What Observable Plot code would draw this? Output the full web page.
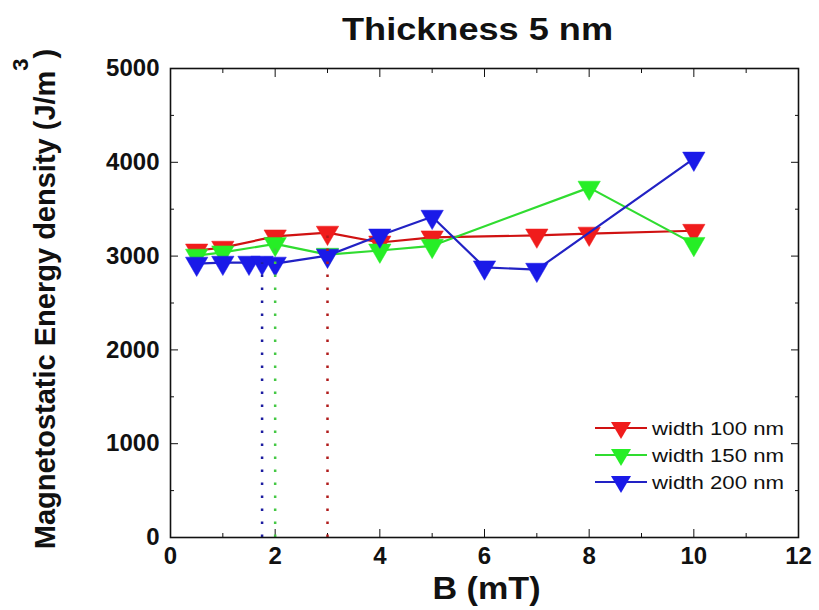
<!DOCTYPE html>
<html>
<head>
<meta charset="utf-8">
<script src="https://cdn.jsdelivr.net/npm/d3@7"></script>
<script src="https://cdn.jsdelivr.net/npm/@observablehq/plot@0.6"></script>
<style>
  html, body { margin: 0; padding: 0; background: #fff; }
  #chart { width: 819px; height: 610px; }
</style>
</head>
<body>
<div id="chart"></div>
<script>
// Magnetostatic energy density vs applied field B, for three strip widths
const B100 = [0.5, 1, 2, 3, 4, 5, 7, 8, 10];
const E100 = [3060, 3090, 3210, 3250, 3145, 3200, 3220, 3240, 3270];
const B150 = [0.5, 1, 2, 3, 4, 5, 8, 10];
const E150 = [3005, 3040, 3130, 3015, 3060, 3110, 3730, 3130];
const B200 = [0.5, 1, 1.5, 1.75, 2, 3, 4, 5, 6, 7, 10];
const E200 = [2920, 2930, 2930, 2930, 2920, 3005, 3220, 3420, 2880, 2855, 4040];

const seriesNames = ["width 100 nm", "width 150 nm", "width 200 nm"];
const markerColors = ["#f01c1c", "#26ee26", "#1a1ae8"];
const lineColors = ["#d01212", "#30dc30", "#2222c4"];
const dropColors = ["#b01a1a", "#44c844", "#1c1ca0"];

// switching fields, marked with dotted drop lines
const critB = [3, 2, 1.75];
const critE = [3250, 3130, 2930];

const xMajor = [0, 2, 4, 6, 8, 10, 12];
const xMinor = [1, 3, 5, 7, 9, 11];
const yMajor = [0, 1000, 2000, 3000, 4000, 5000];
const yMinor = [500, 1500, 2500, 3500, 4500];

const titleText = "Thickness 5 nm";
const xLabel = "B (mT)";
const yLabel = "Magnetostatic Energy density (J/m";

const font = "'Liberation Sans', Arial, Helvetica, sans-serif";

const series = [
  {name: seriesNames[0], B: B100, E: E100},
  {name: seriesNames[1], B: B150, E: E150},
  {name: seriesNames[2], B: B200, E: E200}
].map((s, k) => ({
  ...s,
  k,
  rows: s.B.map((b, i) => ({B: b, E: s.E[i], series: s.name}))
}));

const drops = critB.map((b, k) => ({B: b, E: critE[k], color: dropColors[k]}));

const seriesMarks = series.flatMap(s => [
  Plot.line(s.rows, {x: "B", y: "E", stroke: lineColors[s.k], strokeWidth: 2.2}),
  Plot.dot(s.rows, {x: "B", y: "E", symbol: "triangle", rotate: 180, r: 8.3,
                    fill: markerColors[s.k], stroke: markerColors[s.k], strokeWidth: 0.5})
]);

const tickFont = {fontSize: 24, fontWeight: "bold", fill: "#111"};
const noText = () => "";

const chart = Plot.plot({
  width: 819,
  height: 610,
  marginLeft: 170,
  marginRight: 21,
  marginTop: 68,
  marginBottom: 73,
  style: {fontFamily: font, background: "#fff", overflow: "visible", color: "#111"},
  x: {domain: [0, 12], label: null},
  y: {domain: [0, 5000], label: null},
  marks: [
    // inward ticks on all four sides
    Plot.axisX({ticks: xMajor, anchor: "bottom", tickSize: -8, tickPadding: 17, tickFormat: d => String(d), label: null, ...tickFont}),
    Plot.axisX({ticks: xMinor, anchor: "bottom", tickSize: -4, tickFormat: noText, label: null}),
    Plot.axisX({ticks: xMajor, anchor: "top", tickSize: -8, tickFormat: noText, label: null}),
    Plot.axisX({ticks: xMinor, anchor: "top", tickSize: -4, tickFormat: noText, label: null}),
    Plot.axisY({ticks: yMajor, anchor: "left", tickSize: -8, tickPadding: 19, tickFormat: d => String(d), label: null, ...tickFont}),
    Plot.axisY({ticks: yMinor, anchor: "left", tickSize: -4, tickFormat: noText, label: null}),
    Plot.axisY({ticks: yMajor, anchor: "right", tickSize: -8, tickFormat: noText, label: null}),
    Plot.axisY({ticks: yMinor, anchor: "right", tickSize: -4, tickFormat: noText, label: null}),
    ...seriesMarks,
    Plot.ruleX(drops, {x: "B", y1: 0, y2: "E", stroke: "color", strokeWidth: 2.5, strokeDasharray: "2.5,10.5"}),
    Plot.frame({stroke: "#111", strokeWidth: 1.6}),
    Plot.text([titleText], {frameAnchor: "top", textAnchor: "middle", lineAnchor: "middle", dx: -7, dy: -39, fontSize: 32, fontWeight: "bold", fill: "#111", className: "ttl"}),
    Plot.text([xLabel], {frameAnchor: "bottom", textAnchor: "middle", lineAnchor: "middle", dx: 2, dy: 51, fontSize: 32, fontWeight: "bold", fill: "#111", className: "xlab"}),
    Plot.text([yLabel], {frameAnchor: "left", textAnchor: "middle", lineAnchor: "middle", dx: -125, dy: -4, rotate: -90, fontSize: 29, fontWeight: "bold", fill: "#111", className: "ylab"})
  ]
});

const svg = d3.select(chart);

// wide Origin-style lettering for title and x label
svg.select(".ttl text").attr("textLength", 271).attr("lengthAdjust", "spacingAndGlyphs");
svg.select(".xlab text").attr("textLength", 108).attr("lengthAdjust", "spacingAndGlyphs");

// superscript cubic unit on the y label
const yl = svg.select(".ylab text").attr("text-anchor", "middle");
yl.text(null);
yl.append("tspan").text(yLabel);
yl.append("tspan").attr("font-size", 22).attr("dy", -27).text("3");
yl.append("tspan").attr("dy", 27).text(")");

// legend in the lower right of the frame
const legend = svg.append("g")
  .attr("font-family", font)
  .attr("font-size", 19)
  .attr("text-anchor", "start")
  .attr("fill", "#111");
seriesNames.forEach((name, k) => {
  const g = legend.append("g").attr("transform", `translate(595,${428 + k * 27})`);
  g.append("line").attr("x1", 0).attr("x2", 52).attr("y1", 0).attr("y2", 0)
    .attr("stroke", lineColors[k]).attr("stroke-width", 2.2);
  g.append("path").attr("d", "M16,-6 L36,-6 L26,11 Z").attr("fill", markerColors[k]);
  g.append("text").attr("x", 57).attr("y", 7).attr("text-anchor", "start").text(name)
    .attr("textLength", 132).attr("lengthAdjust", "spacingAndGlyphs");
});

document.getElementById("chart").append(chart);
</script>
</body>
</html>
